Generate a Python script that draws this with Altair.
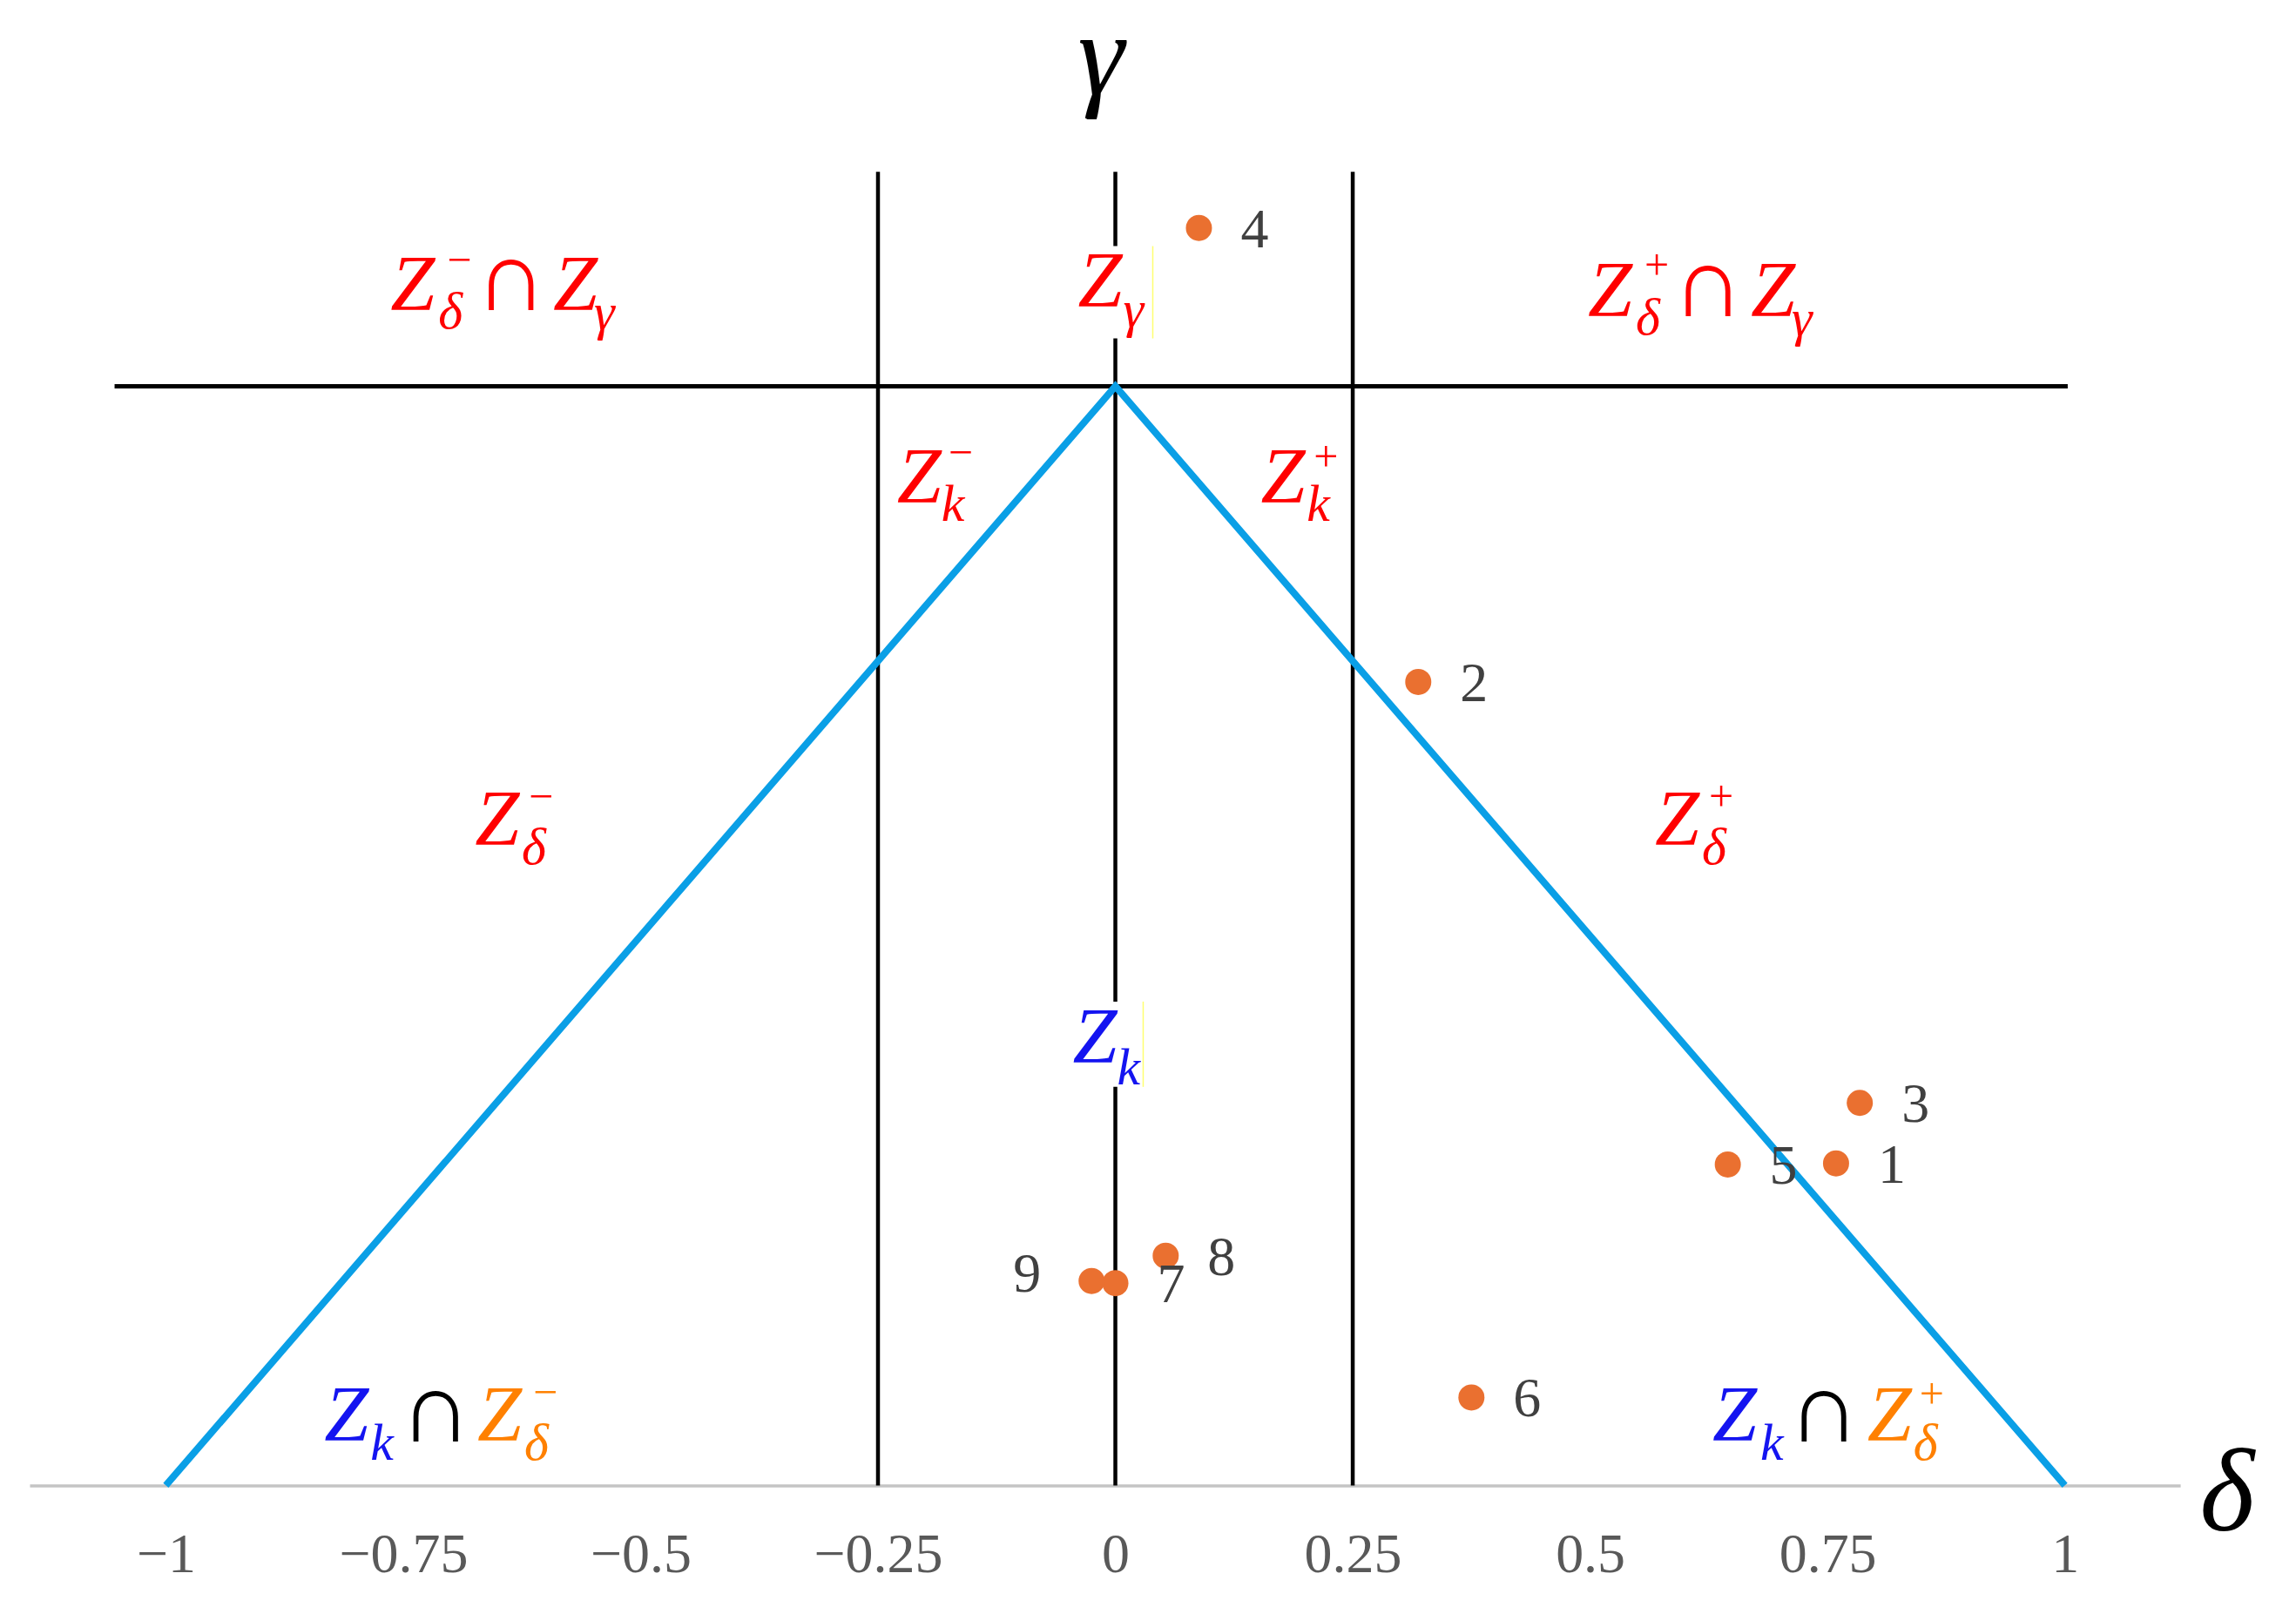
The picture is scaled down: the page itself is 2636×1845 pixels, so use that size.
import altair as alt
import pandas as pd

# ---- data -------------------------------------------------------------
tick_values = [-1, -0.75, -0.5, -0.25, 0, 0.25, 0.5, 0.75, 1]

# blue boundary (triangle)
tri_x = [-1.0, 0.0, 1.0]
tri_y = [0.0, 1.0, 0.0]

# vertical separators and horizontal level
vline_x = [-0.25, 0.0, 0.25]
vline_top = 1.195
hline_y = 1.0
hline_x0, hline_x1 = -1.054, 1.003

# numbered points
pt_id = [1, 2, 3, 4, 5, 6, 7, 8, 9]
pt_x = [0.759, 0.319, 0.784, 0.088, 0.645, 0.375, 0.0, 0.053, -0.025]
pt_y = [0.293, 0.731, 0.348, 1.144, 0.292, 0.080, 0.184, 0.209, 0.186]

# region-label pieces: text, x, y (baseline), role, colour
RED, BLUE, ORANGE, BLACK = "#ff0000", "#1414f0", "#ff8000", "#000000"
lab_text = [
    "Z", "δ", "−", "∩", "Z", "γ",          # Z_delta^- ∩ Z_gamma
    "Z", "γ",                              # Z_gamma
    "Z", "δ", "+", "∩", "Z", "γ",          # Z_delta^+ ∩ Z_gamma
    "Z", "k", "−",                         # Z_k^-
    "Z", "k", "+",                         # Z_k^+
    "Z", "δ", "−",                         # Z_delta^-
    "Z", "δ", "+",                         # Z_delta^+
    "Z", "k",                              # Z_k
    "Z", "k", "∩", "Z", "δ", "−",          # Z_k ∩ Z_delta^-
    "Z", "k", "∩", "Z", "δ", "+",          # Z_k ∩ Z_delta^+
]
lab_x = [
    -0.7635, -0.7131, -0.7039, -0.6746, -0.5921, -0.5490,
    -0.0394, 0.0082,
    0.4977, 0.5481, 0.5573, 0.5861, 0.6691, 0.7122,
    -0.2301, -0.1833, -0.1760,
    0.1531, 0.2016, 0.2090,
    -0.6746, -0.6251, -0.6178,
    0.5683, 0.6178, 0.6251,
    -0.0449, 0.0018,
    -0.8332, -0.7846, -0.7539, -0.6719, -0.6224, -0.6132,
    0.6288, 0.6792, 0.7081, 0.7919, 0.8405, 0.8469,
]
lab_y = [
    1.0689, 1.0523, 1.1021, 1.0689, 1.0689, 1.0515,
    1.0721, 1.0539,
    1.0641, 1.0475, 1.0974, 1.0641, 1.0641, 1.0467,
    0.8939, 0.8773, 0.9264,
    0.8939, 0.8773, 0.9224,
    0.5828, 0.5653, 0.6136,
    0.5828, 0.5653, 0.6136,
    0.3848, 0.3650,
    0.0404, 0.0230, 0.0396, 0.0404, 0.0230, 0.0720,
    0.0404, 0.0230, 0.0396, 0.0404, 0.0230, 0.0700,
]
lab_role = [
    "main", "sub", "sup", "cap", "main", "sub",
    "main", "sub",
    "main", "sub", "sup", "cap", "main", "sub",
    "main", "sub", "sup",
    "main", "sub", "sup",
    "main", "sub", "sup",
    "main", "sub", "sup",
    "main", "sub",
    "main", "sub", "cap", "main", "sub", "sup",
    "main", "sub", "cap", "main", "sub", "sup",
]
lab_color = (
    [RED] * 26
    + [BLUE] * 2
    + [BLUE, BLUE, BLACK, ORANGE, ORANGE, ORANGE]
    + [BLUE, BLUE, BLACK, ORANGE, ORANGE, ORANGE]
)

# white label boxes that hide the centre line behind Z_gamma and Z_k
box_x0 = [-0.042, -0.049]
box_x1 = [0.041, 0.029]
box_y0 = [1.0435, 0.3626]
box_y1 = [1.1275, 0.4402]
box_edge = [0.0394, 0.0293]

# axis symbols
axis_sym = ["γ", "δ"]
axis_sym_x = [-0.0394, 1.1421]
axis_sym_y = [1.2660, -0.0412]

# ---- scales -----------------------------------------------------------
X_DOM = [-1.1435, 1.1215]
Y_DOM = [0.0, 1.335]
W, H = 2471, 1686
xs = alt.Scale(domain=X_DOM, nice=False, zero=False)
ys = alt.Scale(domain=Y_DOM, nice=False, zero=False)

SERIF = "Liberation Serif"

# ---- layers -----------------------------------------------------------
vdf = pd.DataFrame({"x": vline_x, "y0": [0.0] * 3, "y1": [vline_top] * 3})
vlines = alt.Chart(vdf).mark_rule(color="black", strokeWidth=4.5).encode(
    x=alt.X("x:Q", scale=xs,
            axis=alt.Axis(values=tick_values, format="~g", title=None,
                          grid=False, ticks=False, tickSize=0,
                          domain=True, domainColor="#c4c4c4", domainWidth=3.5,
                          labelFont=SERIF, labelFontSize=64, labelColor="#595959",
                          labelBaseline="alphabetic", labelPadding=99,
                          labelFlush=False, labelOverlap=False)),
    y=alt.Y("y0:Q", scale=ys, axis=None),
    y2="y1:Q",
)

hdf = pd.DataFrame({"x0": [hline_x0], "x1": [hline_x1], "y": [hline_y]})
hline = alt.Chart(hdf).mark_rule(color="black", strokeWidth=5).encode(
    x=alt.X("x0:Q", scale=xs), x2="x1:Q", y=alt.Y("y:Q", scale=ys)
)

tdf = pd.DataFrame({"x": tri_x, "y": tri_y, "o": [0, 1, 2]})
tri = alt.Chart(tdf).mark_line(color="#0a9fe6", strokeWidth=8).encode(
    x=alt.X("x:Q", scale=xs), y=alt.Y("y:Q", scale=ys), order="o:Q"
)

bdf = pd.DataFrame({"x0": box_x0, "x1": box_x1, "y0": box_y0, "y1": box_y1, "e": box_edge})
boxes = alt.Chart(bdf).mark_rect(color="white").encode(
    x=alt.X("x0:Q", scale=xs), x2="x1:Q", y=alt.Y("y0:Q", scale=ys), y2="y1:Q"
)
edges = alt.Chart(bdf).mark_rule(color="#ffff70", strokeWidth=1.5).encode(
    x=alt.X("e:Q", scale=xs), y=alt.Y("y0:Q", scale=ys), y2="y1:Q"
)

pdf = pd.DataFrame({"id": pt_id, "x": pt_x, "y": pt_y})
points = alt.Chart(pdf).mark_circle(size=900, color="#ea7030", opacity=1).encode(
    x=alt.X("x:Q", scale=xs), y=alt.Y("y:Q", scale=ys)
)
plabels_r = alt.Chart(pdf).transform_filter("datum.id != 9").mark_text(
    font=SERIF, fontSize=64, color="#404040", align="left",
    baseline="alphabetic", dx=48, dy=22
).encode(x=alt.X("x:Q", scale=xs), y=alt.Y("y:Q", scale=ys), text="id:N")
plabels_l = alt.Chart(pdf).transform_filter("datum.id == 9").mark_text(
    font=SERIF, fontSize=64, color="#404040", align="right",
    baseline="alphabetic", dx=-58, dy=12
).encode(x=alt.X("x:Q", scale=xs), y=alt.Y("y:Q", scale=ys), text="id:N")

ldf = pd.DataFrame({"t": lab_text, "x": lab_x, "y": lab_y, "role": lab_role, "c": lab_color})
role_style = {
    "main": dict(font=SERIF, fontSize=92, fontStyle="italic"),
    "sub": dict(font=SERIF, fontSize=60, fontStyle="italic"),
    "sup": dict(font=SERIF, fontSize=50, fontStyle="normal"),
    "cap": dict(font=SERIF, fontSize=115, fontStyle="normal"),
}
label_layers = []
for role, st in role_style.items():
    label_layers.append(
        alt.Chart(ldf).transform_filter(f"datum.role == '{role}'").mark_text(
            align="left", baseline="alphabetic", **st
        ).encode(
            x=alt.X("x:Q", scale=xs), y=alt.Y("y:Q", scale=ys),
            text="t:N", color=alt.Color("c:N", scale=None)
        )
    )

adf = pd.DataFrame({"t": axis_sym, "x": axis_sym_x, "y": axis_sym_y})
axis_labels = alt.Chart(adf).mark_text(
    font=SERIF, fontSize=135, fontStyle="italic", color="black",
    align="left", baseline="alphabetic"
).encode(x=alt.X("x:Q", scale=xs), y=alt.Y("y:Q", scale=ys), text="t:N")

chart = alt.layer(
    vlines, hline, tri, boxes, edges, points, plabels_r, plabels_l,
    *label_layers, axis_labels
).properties(
    width=W, height=H,
    autosize=alt.AutoSizeParams(type="none"),
    padding={"left": 26, "top": 12, "right": 125, "bottom": 130},
    background="white",
).configure_view(stroke=None)

chart.save("out.html", embed_options={"renderer": "svg", "actions": False})
